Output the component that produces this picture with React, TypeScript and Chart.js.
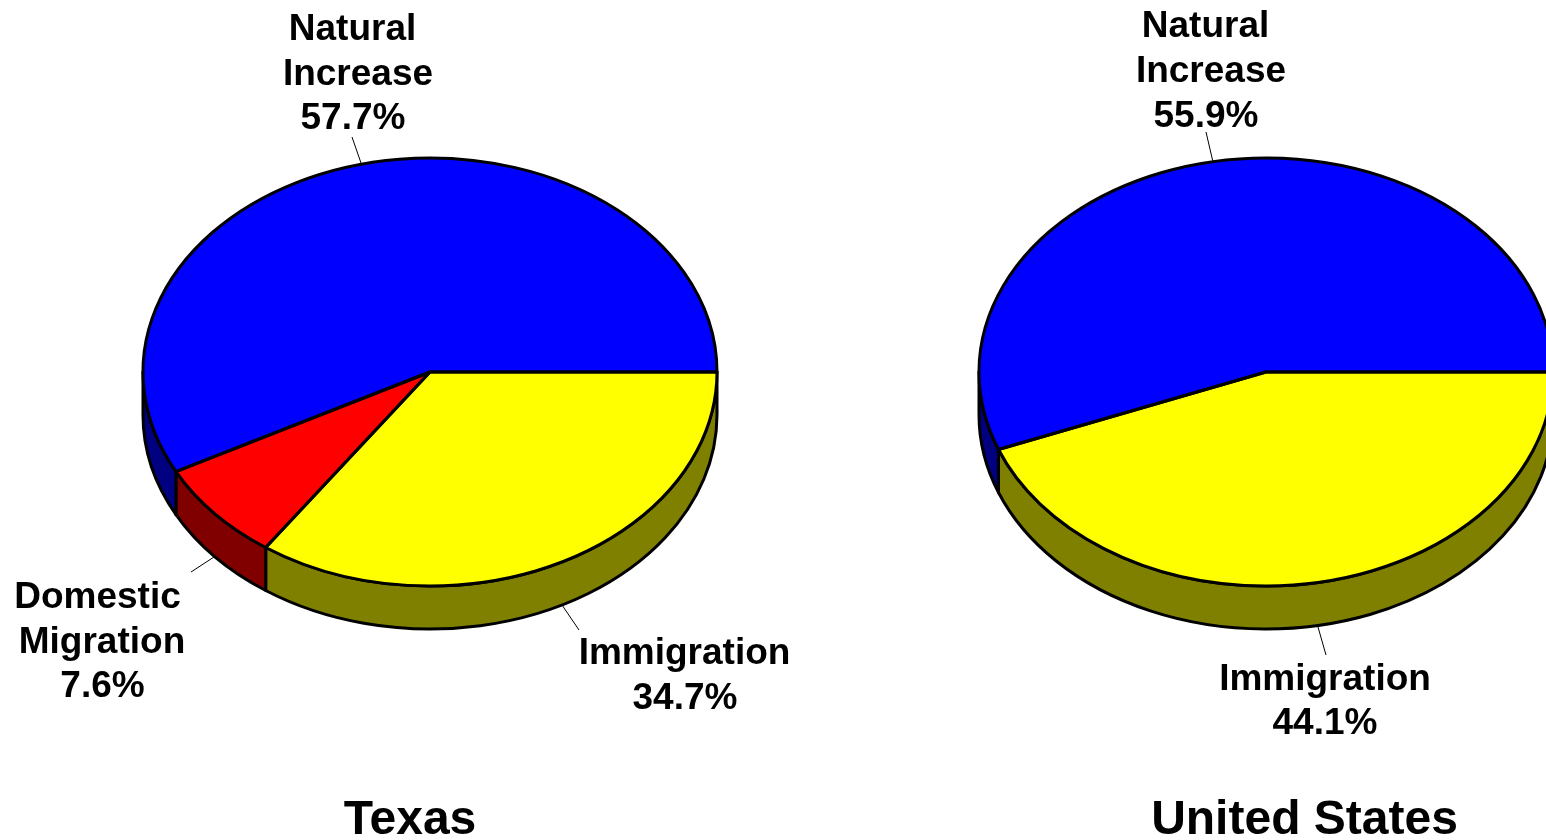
import React, { useEffect, useRef } from "react";
import { Chart, registerables } from "chart.js";

Chart.register(...registerables);

// ---- data ----
const texasCategories = ["Immigration", "Domestic Migration", "Natural Increase"];
const texasValues = [34.7, 7.6, 57.7];
const usCategories = ["Immigration", "Natural Increase"];
const usValues = [44.1, 55.9];

// ---- style ----
const faceColor: Record<string, string> = {
  Immigration: "#ffff00",
  "Domestic Migration": "#ff0000",
  "Natural Increase": "#0000ff",
};
const sideColor: Record<string, string> = {
  Immigration: "#808000",
  "Domestic Migration": "#800000",
  "Natural Increase": "#000080",
};
const lineBreaks: Record<string, string[]> = {
  Immigration: ["Immigration"],
  "Domestic Migration": ["Domestic", "Migration"],
  "Natural Increase": ["Natural", "Increase"],
};

const SQUASH = 214 / 287;
const DEPTH = 43;
const RADIUS = 287;
const OUTLINE = 3;
const LABEL_FONT = 'bold 37px "Liberation Sans", Arial, sans-serif';
const TITLE_FONT = 'bold 48px "Liberation Sans", Arial, sans-serif';

type Placement = { xs: number[]; baselines: number[]; leader: number[] };

const texasPlacement: Placement[] = [
  { xs: [684.5, 685], baselines: [664, 709], leader: [562, 605, 579, 630] },
  { xs: [97.5, 102, 102.5], baselines: [608, 653, 697], leader: [214, 557, 191, 572] },
  { xs: [352.5, 358, 353], baselines: [40, 85, 129], leader: [361, 163, 352, 137] },
];
const usPlacement: Placement[] = [
  { xs: [1325 - 773, 1325 - 773], baselines: [689.5, 734], leader: [1318 - 773, 627, 1326 - 773, 655] },
  { xs: [1205.5 - 773, 1211 - 773, 1206 - 773], baselines: [37, 82, 127], leader: [1213 - 773, 162, 1206 - 773, 132] },
];

function makePlugin(title: string, titleX: number, placement: Placement[]) {
  return {
    id: "pie3d",
    beforeDatasetsDraw(chart: any) {
      const ctx = chart.ctx;
      const arcs = chart.getDatasetMeta(0).data;
      const labels = chart.data.labels as string[];
      ctx.save();
      // leader lines
      ctx.strokeStyle = "#000";
      ctx.lineWidth = 1;
      placement.forEach((p) => {
        ctx.beginPath();
        ctx.moveTo(p.leader[0], p.leader[1]);
        ctx.lineTo(p.leader[2], p.leader[3]);
        ctx.stroke();
      });
      // pie wall
      arcs.forEach((arc: any, i: number) => {
        const t = Math.PI * 2;
        const s0 = ((arc.startAngle % t) + t) % t;
        const e0 = s0 + (arc.endAngle - arc.startAngle);
        const s = Math.max(s0, 0);
        const e = Math.min(e0, Math.PI);
        if (e <= s) return;
        const rx = arc.outerRadius;
        const ry = arc.outerRadius * SQUASH;
        ctx.beginPath();
        ctx.ellipse(arc.x, arc.y, rx, ry, 0, s, e, false);
        ctx.ellipse(arc.x, arc.y + DEPTH, rx, ry, 0, e, s, true);
        ctx.closePath();
        ctx.fillStyle = sideColor[labels[i]];
        ctx.fill();
        ctx.strokeStyle = "#000";
        ctx.lineWidth = OUTLINE;
        ctx.lineJoin = "round";
        ctx.stroke();
      });
      ctx.restore();
      // squash the flat pie into an ellipse
      const cx = arcs[0].x;
      const cy = arcs[0].y;
      ctx.save();
      ctx.translate(cx, cy);
      ctx.scale(1, SQUASH);
      ctx.translate(-cx, -cy);
    },
    afterDatasetsDraw(chart: any) {
      const ctx = chart.ctx;
      ctx.restore();
      const arcs = chart.getDatasetMeta(0).data;
      const labels = chart.data.labels as string[];
      const values = chart.data.datasets[0].data as number[];
      ctx.save();
      // even outline round each slice, unaffected by the squash
      ctx.strokeStyle = "#000";
      ctx.lineWidth = OUTLINE;
      ctx.lineJoin = "round";
      arcs.forEach((arc: any) => {
        ctx.beginPath();
        ctx.moveTo(arc.x, arc.y);
        ctx.ellipse(arc.x, arc.y, arc.outerRadius, arc.outerRadius * SQUASH, 0, arc.startAngle, arc.endAngle, false);
        ctx.closePath();
        ctx.stroke();
      });
      ctx.fillStyle = "#000";
      ctx.textAlign = "center";
      ctx.textBaseline = "alphabetic";
      ctx.font = LABEL_FONT;
      labels.forEach((label, i) => {
        const lines = [...lineBreaks[label], `${values[i].toFixed(1)}%`];
        lines.forEach((line, j) => {
          ctx.fillText(line, placement[i].xs[j], placement[i].baselines[j]);
        });
      });
      ctx.font = TITLE_FONT;
      ctx.fillText(title, titleX, 834);
      ctx.restore();
    },
  };
}

function Pie(props: {
  left: number;
  width: number;
  categories: string[];
  values: number[];
  title: string;
  titleX: number;
  placement: Placement[];
  padding: { left: number; right: number; top: number; bottom: number };
}) {
  const ref = useRef<HTMLCanvasElement | null>(null);
  useEffect(() => {
    const chart = new Chart(ref.current as HTMLCanvasElement, {
      type: "pie",
      data: {
        labels: props.categories,
        datasets: [
          {
            data: props.values,
            backgroundColor: props.categories.map((c) => faceColor[c]),
            borderWidth: 0,
            clip: false,
          } as any,
        ],
      },
      options: {
        responsive: false,
        animation: false,
        devicePixelRatio: 1,
        rotation: 90,
        radius: RADIUS,
        layout: { padding: props.padding },
        plugins: { legend: { display: false }, tooltip: { enabled: false }, title: { display: false } },
      } as any,
      plugins: [makePlugin(props.title, props.titleX, props.placement)],
    });
    return () => chart.destroy();
  }, []);
  return (
    <canvas
      ref={ref}
      width={props.width}
      height={840}
      style={{ position: "absolute", left: props.left, top: 0, width: props.width, height: 840, display: "block" }}
    />
  );
}

export default function App() {
  return (
    <div style={{ position: "absolute", left: 0, top: 0, width: 1546, height: 840, overflow: "hidden", background: "#fff" }}>
      <Pie
        left={0}
        width={860}
        categories={texasCategories}
        values={texasValues}
        title="Texas"
        titleX={410}
        placement={texasPlacement}
        padding={{ left: 143, right: 143, top: 85, bottom: 181 }}
      />
      <Pie
        left={773}
        width={773}
        categories={usCategories}
        values={usValues}
        title="United States"
        titleX={1304.5 - 773}
        placement={usPlacement}
        padding={{ left: 300, right: 87, top: 85, bottom: 181 }}
      />
    </div>
  );
}
